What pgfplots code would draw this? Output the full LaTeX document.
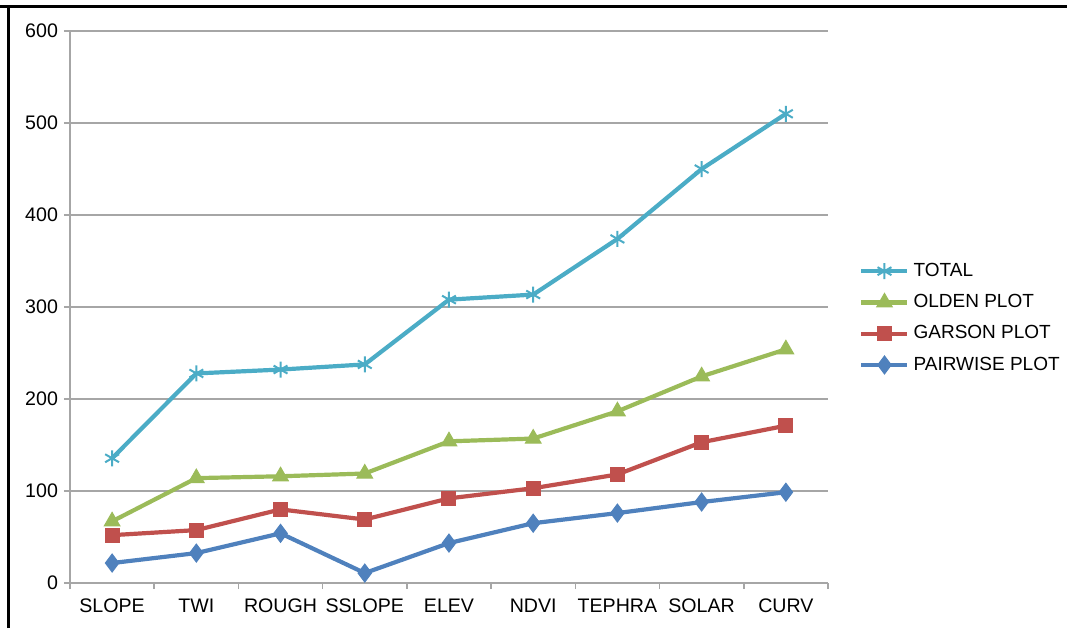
\documentclass[border=0pt]{standalone}
\usepackage{fontspec}
\setmainfont{Liberation Sans}
\usepackage{pgfplots}
\pgfplotsset{compat=1.18}
\definecolor{cTotal}{HTML}{4BACC6}
\definecolor{cOlden}{HTML}{9BBB59}
\definecolor{cGarson}{HTML}{C0504D}
\definecolor{cPair}{HTML}{4F81BD}
\definecolor{cGrid}{HTML}{A6A6A6}
\begin{document}
\begin{tikzpicture}
\useasboundingbox (-35pt,-22.5pt) rectangle (498.5pt,291.5pt);
\draw[line width=1.5pt,black] (-35pt,288pt) -- (498.5pt,288pt);
\draw[line width=1.5pt,black] (-30.5pt,-22.5pt) -- (-30.5pt,288.75pt);
\begin{axis}[
  at={(0,0)}, anchor=south west,
  scale only axis,
  width=379pt, height=276pt,
  xmin=-0.5, xmax=8.5, ymin=0, ymax=600,
  axis x line*=bottom, axis y line*=left,
  axis line style={-, draw=cGrid, line width=0.8pt},
  xtick={0,...,8},
  xticklabels={SLOPE,TWI,ROUGH,SSLOPE,ELEV,NDVI,TEPHRA,SOLAR,CURV},
  major x tick style={draw=none},
  minor xtick={-0.5,0.5,...,8.5},
  minor tick length=3pt,
  minor x tick style={draw=cGrid, line width=0.8pt},
  ytick={0,100,...,600},
  major tick length=3pt,
  tick align=outside,
  ytick style={draw=cGrid, line width=0.8pt},
  ymajorgrids,
  grid style={draw=cGrid, line width=0.8pt},
  tick label style={font=\fontsize{9.8}{11}\selectfont, text=black},
  /pgf/number format/assume math mode=true,
  yticklabel style={xshift=0.5pt},
  xticklabel style={yshift=-1.5pt},
  legend style={at={(1.033,0.48)}, anchor=west, draw=none, fill=none,
    font=\fontsize{9.5}{11}\selectfont, row sep=3.5pt,
    /tikz/every even column/.append style={column sep=0pt}},
  legend cell align=left,
  legend image code/.code={
    \draw[#1,mark repeat=2,mark phase=2] plot coordinates {(0pt,0pt) (11.5pt,0pt) (23pt,0pt)};
  },
  every axis plot/.append style={line width=2.1pt},
]
\addplot[color=cTotal, mark=asterisk, mark size=4pt, mark options={line width=1pt}] coordinates {
(0,135.6) (1,227.8) (2,232) (3,237.6) (4,308) (5,313.5) (6,374) (7,450) (8,510)};
\addlegendentry{TOTAL}
\addplot[color=cOlden, mark=triangle*, mark size=4.5pt, mark options={line width=0.5pt}] coordinates {
(0,67) (1,114) (2,116) (3,119) (4,154) (5,157) (6,186.6) (7,224.6) (8,254)};
\addlegendentry{OLDEN PLOT}
\addplot[color=cGarson, mark=square*, mark size=3.5pt, mark options={line width=0.5pt}] coordinates {
(0,52) (1,57.5) (2,80) (3,69) (4,92) (5,103) (6,118) (7,153) (8,171)};
\addlegendentry{GARSON PLOT}
\addplot[color=cPair, mark=diamond*, mark size=4.5pt, mark options={line width=0.5pt}] coordinates {
(0,21.7) (1,32.5) (2,54) (3,10.8) (4,43.4) (5,65) (6,76) (7,88) (8,98.7)};
\addlegendentry{PAIRWISE PLOT}
\end{axis}
\end{tikzpicture}
\end{document}
